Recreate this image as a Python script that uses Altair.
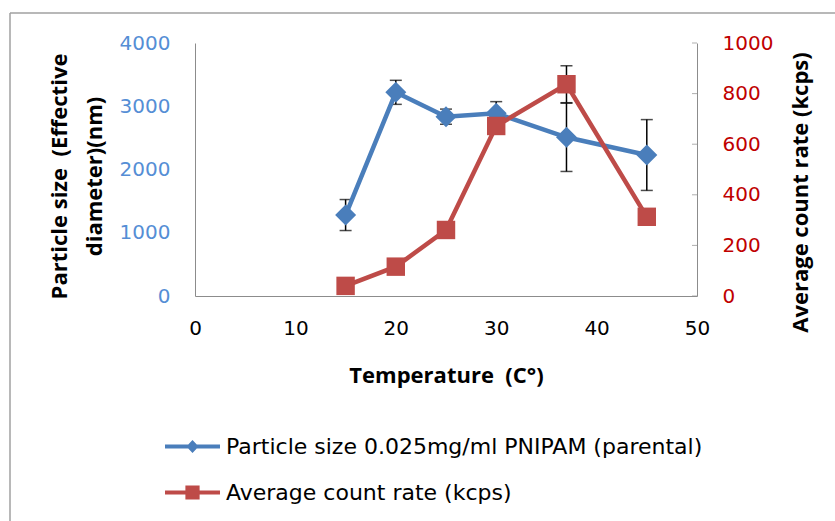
import altair as alt
import pandas as pd

# ---- data ----
temps = [15, 20, 25, 30, 37, 45]
size_nm = [1280, 3220, 2835, 2888, 2509, 2229]
size_err = [245, 190, 120, 185, 540, 560]
rate_kcps = [40, 116, 261, 672, 837, 313]
rate_err = [0, 0, 0, 0, 73, 0]
series_names = ["Particle size 0.025mg/ml PNIPAM (parental)", "Average count rate (kcps)"]
x_ticks = [0, 10, 20, 30, 40, 50]
left_ticks = [0, 1000, 2000, 3000, 4000]
right_ticks = [0, 200, 400, 600, 800, 1000]

BLUE = "#4A7EBB"
BLUE_LBL = "#558ED5"
RED = "#BE4B48"
RED_LBL = "#C00000"
GRAY = "#8C8C8C"
FONT = "DejaVu Sans"
TFONT = "Open Sans"
NB = "\u00a0"

df_size = pd.DataFrame({
    "T": temps, "v": size_nm,
    "lo": [a - b for a, b in zip(size_nm, size_err)],
    "hi": [a + b for a, b in zip(size_nm, size_err)],
})
df_rate = pd.DataFrame({
    "T": temps, "v": rate_kcps,
    "lo": [a - b for a, b in zip(rate_kcps, rate_err)],
    "hi": [a + b for a, b in zip(rate_kcps, rate_err)],
})
df_rticks = pd.DataFrame({"T": [50] * len(right_ticks), "v": right_ticks})
df_series = pd.DataFrame({"series": series_names})

x_axis = alt.Axis(values=x_ticks, grid=False, ticks=False, domainColor=GRAY, domainWidth=1,
                  labelFont=FONT, labelFontSize=20, labelColor="black", labelPadding=22,
                  format="d", labelFlush=False,
                  title="Temperature" + NB + " (C°)", titleFont=TFONT, titleFontSize=22,
                  titleFontWeight="bold", titleColor="black", titleY=79, titleBaseline="middle")
x_enc = alt.X("T:Q", scale=alt.Scale(domain=[0, 50], nice=False), axis=x_axis)

left_axis = alt.Axis(orient="left", values=left_ticks, grid=False, ticks=False, domainColor=GRAY,
                     domainWidth=1, labelFont=FONT, labelFontSize=20, labelColor=BLUE_LBL,
                     labelPadding=25, format="d", labelFlush=False,
                     title=["Particle size" + NB + " (Effective", "diameter)(nm)"], titleFont=TFONT,
                     titleFontSize=22, titleFontWeight="bold", titleColor="black",
                     titleAngle=270, titleLineHeight=35, titleX=-136, titleY=133,
                     titleAlign="center", titleBaseline="middle")
right_axis = alt.Axis(orient="right", values=right_ticks, grid=False, ticks=False,
                      domainColor=GRAY, domainWidth=1, labelFont=FONT, format="d",
                      labelFontSize=20, labelColor=RED_LBL, labelPadding=25, labelFlush=False,
                      title="Average count rate (kcps)", titleFont=TFONT, titleFontSize=22,
                      titleFontWeight="bold", titleColor="black", titleAngle=270,
                      titleX=103, titleY=149, titleAlign="center", titleBaseline="middle")

line_path = "M-1.122,-0.08H1.122V0.08H-1.122Z "
blue_sym = line_path + "M0,-0.27L0.25,0L0,0.27L-0.25,0Z"
red_sym = line_path + "M-0.29,-0.29H0.29V0.29H-0.29Z"
legend = alt.Legend(orient="none", legendX=-27, legendY=379, direction="vertical", title=None,
                    symbolSize=2401, symbolStrokeWidth=0, labelFont=FONT, labelFontSize=22,
                    labelColor="black", labelOffset=9, rowPadding=10, padding=0,
                    labelLimit=600)


def series_layer(df, dom, axis, line_color, shape, marker_size):
    base = alt.Chart(df)
    yscale = alt.Scale(domain=dom, nice=False)
    err = base.mark_rule(color="black", strokeWidth=1.5).encode(
        x=x_enc, y=alt.Y("lo:Q", scale=yscale, axis=axis), y2="hi:Q")
    cap_hi = base.mark_tick(color="black", thickness=1.5, size=12, orient="horizontal").encode(
        x=x_enc, y=alt.Y("hi:Q", scale=yscale, axis=axis))
    cap_lo = base.mark_tick(color="black", thickness=1.5, size=12, orient="horizontal").encode(
        x=x_enc, y=alt.Y("lo:Q", scale=yscale, axis=axis))
    line = base.mark_line(color=line_color, strokeWidth=4.5).encode(
        x=x_enc, y=alt.Y("v:Q", scale=yscale, axis=axis))
    pts = base.mark_point(filled=True, opacity=1, size=marker_size, shape=shape,
                          color=line_color).encode(
        x=x_enc, y=alt.Y("v:Q", scale=yscale, axis=axis))
    return [err, cap_hi, cap_lo, line, pts]


blue_parts = series_layer(df_size, [0, 4000], left_axis, BLUE, "diamond", 441)
red_parts = series_layer(df_rate, [0, 1000], right_axis, RED, "square", 340)

# inward ticks on the right axis
rticks = alt.Chart(df_rticks).mark_tick(color=GRAY, thickness=1, size=5, orient="horizontal",
                                        xOffset=-2.5).encode(
    x=x_enc, y=alt.Y("v:Q", scale=alt.Scale(domain=[0, 1000], nice=False), axis=right_axis))

blue_layer = alt.layer(*blue_parts)
red_layer = alt.layer(rticks, *red_parts)

# legend-only layer (no marks drawn)
legend_layer = alt.Chart(df_series).transform_filter("datum.series == null").mark_point(
    filled=True, opacity=1).encode(
    color=alt.Color("series:N", scale=alt.Scale(domain=series_names, range=[BLUE, RED]),
                    legend=legend),
    shape=alt.Shape("series:N", scale=alt.Scale(domain=series_names, range=[blue_sym, red_sym]),
                    legend=legend),
)

frame_df = pd.DataFrame({"a": [0]})
frame_left = alt.Chart(frame_df).mark_rule(color="#A0A0A0", strokeWidth=1.5).encode(
    x=alt.value(-185), y=alt.value(-30), y2=alt.value(500))
frame_top = alt.Chart(frame_df).mark_rule(color="#A0A0A0", strokeWidth=1.5).encode(
    x=alt.value(-185), x2=alt.value(660), y=alt.value(-30))

chart = alt.layer(frame_left, frame_top, blue_layer, red_layer, legend_layer).resolve_scale(
    y="independent"
).properties(
    width=502, height=253,
    autosize=alt.AutoSizeParams(type="none"),
    padding={"left": 195, "top": 43, "right": 138, "bottom": 225},
    background="white",
).configure_view(strokeWidth=0)

chart.save("out.html", embed_options={"renderer": "svg", "actions": False})
